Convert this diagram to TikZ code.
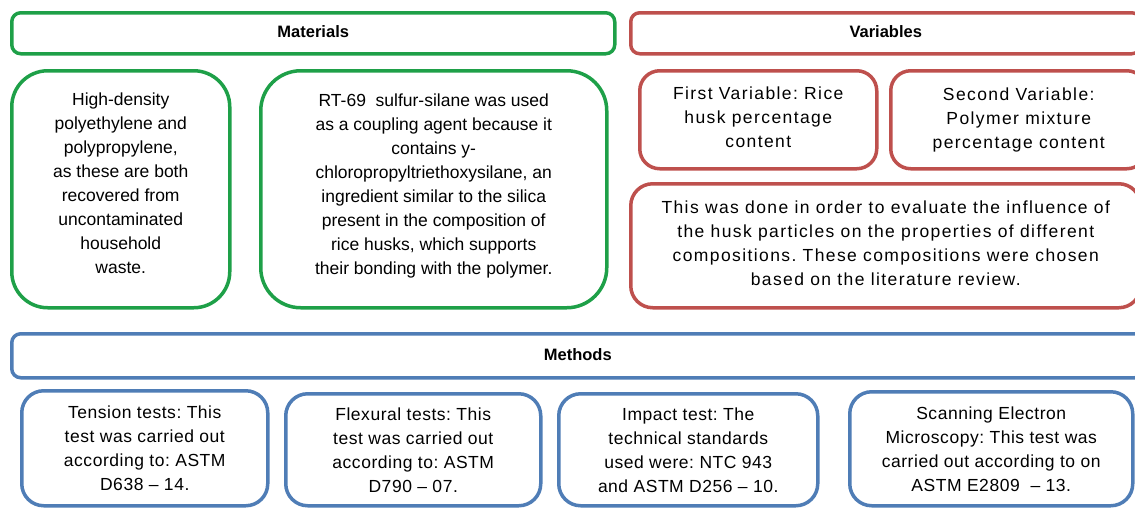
\documentclass[tikz,border=0pt]{standalone}
\usepackage{fontspec}
\setmainfont{Liberation Sans}
\usetikzlibrary{positioning}
\definecolor{mat_green}{RGB}{30,160,72}
\definecolor{var_red}{RGB}{190,80,77}
\definecolor{met_blue}{RGB}{79,125,182}
\frenchspacing
% extra depth under the last line, lifts the text a little in its box
\newcommand{\textlift}[1]{\rule[-#1]{0pt}{#1}}

\begin{document}
\begin{tikzpicture}[x=1pt, y=-1pt,
    header/.style={draw, line width=3.5pt, rounded corners=9pt, inner sep=0pt, anchor=north west, font={\fontsize{16.5}{24}\selectfont\bfseries}},
    textbox/.style={draw, line width=3.5pt, inner sep=0pt, anchor=north west, align=center},
    mat_box/.style={textbox, draw=mat_green, font={\fontsize{17.5}{24}\selectfont}},
    var_box/.style={textbox, draw=var_red, rounded corners=20pt, font={\fontsize{17.5}{24}\selectfont\addfontfeature{LetterSpace=8}}},
    met_box/.style={textbox, draw=met_blue, rounded corners=22pt, font={\fontsize{17.5}{24}\selectfont\addfontfeature{LetterSpace=3}}}]

    \useasboundingbox (0,0) rectangle (1135,507);

    % --- Begin Materials Node ---
    \node [header, draw=mat_green, minimum width=603pt, minimum height=41pt] (Materials) at (10,11) {Materials\textlift{3pt}};
    \node [mat_box, rounded corners=36pt, minimum width=218pt, minimum height=237pt] (materials_polymers) at (10,69) {
      High-density \\
      polyethylene and \\
      polypropylene, \\
      as these are both \\
      recovered from \\
      uncontaminated \\
      household \\
      waste.\textlift{12pt}
    };
    \node [mat_box, rounded corners=40pt, minimum width=346pt, minimum height=237pt] (materials_silane) at (259,69) {
      RT-69~~sulfur-silane was used \\
      as a coupling agent because it \\
      contains y- \\
      chloropropyltriethoxysilane, an \\
      ingredient similar to the silica \\
      present in the composition of \\
      rice husks, which supports \\
      their bonding with the polymer.\textlift{10pt}
    };
    % --- End Materials Node ---

    % --- Begin Variables Node ---
    \node [header, draw=var_red, minimum width=510pt, minimum height=41pt] (Variables) at (629,11) {Variables\textlift{3pt}};
    \node [var_box, minimum width=237pt, minimum height=98pt] (variables_first) at (638,69) {
      First Variable: Rice \\
      husk percentage \\
      content\textlift{6pt}
    };
    \node [var_box, minimum width=256pt, minimum height=98pt] (variables_second) at (889,69) {
      Second Variable: \\
      Polymer mixture \\
      percentage content\textlift{4pt}
    };
    \node [var_box, rounded corners=22pt, minimum width=510pt, minimum height=124pt] (variables_reason) at (629,182) {
      This was done in order to evaluate the influence of \\
      the husk particles on the properties of different \\
      compositions. These compositions were chosen \\
      based on the literature review.\textlift{6pt}
    };
    % --- End Variables Node ---

    % --- Begin Methods Node ---
    \node [header, draw=met_blue, minimum width=1132pt, minimum height=44pt] (Methods) at (10,332) {Methods\textlift{3pt}};
    \node [met_box, minimum width=246pt, minimum height=115pt] (methods_tension) at (20,389) {
      Tension tests: This \\
      test was carried out \\
      according to: ASTM \\
      D638 -- 14.
    };
    \node [met_box, minimum width=255pt, minimum height=112pt] (methods_flexural) at (284,392) {
      Flexural tests: This \\
      test was carried out \\
      according to: ASTM \\
      D790 -- 07.
    };
    \node [met_box, minimum width=259pt, minimum height=112pt] (methods_impact) at (557,392) {
      Impact test: The \\
      technical standards \\
      used were: NTC 943 \\
      and ASTM D256 -- 10.
    };
    \node [met_box, minimum width=283pt, minimum height=114pt] (methods_sem) at (848,390) {
      Scanning Electron \\
      Microscopy: This test was \\
      carried out according to on \\
      ASTM E2809~ -- 13.
    };
    % --- End Methods Node ---

\end{tikzpicture}
\end{document}
